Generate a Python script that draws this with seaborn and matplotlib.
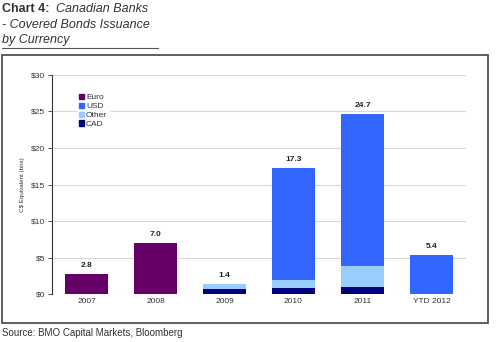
import matplotlib
matplotlib.use("Agg")
import matplotlib.pyplot as plt
import seaborn as sns
import numpy as np
import pandas as pd
from matplotlib.patches import Rectangle
from matplotlib.lines import Line2D

categories = ["2007", "2008", "2009", "2010", "2011", "YTD 2012"]
cad = [0.0, 0.0, 0.7, 0.8, 1.0, 0.0]
other = [0.0, 0.0, 0.7, 1.2, 2.8, 0.0]
usd = [0.0, 0.0, 0.0, 15.3, 20.9, 5.4]
euro = [2.8, 7.0, 0.0, 0.0, 0.0, 0.0]
total_labels = ["2.8", "7.0", "1.4", "17.3", "24.7", "5.4"]
yticks = [0, 5, 10, 15, 20, 25, 30]
ytick_labels = ["$0", "$5", "$10", "$15", "$20", "$25", "$30"]

colors = {"Euro": "#660066", "USD": "#3366FF", "Other": "#99CCFF", "CAD": "#000080"}

sns.set_theme(style="white")
plt.rcParams["font.family"] = ["Liberation Sans", "DejaVu Sans"]

fig = plt.figure(figsize=(5.0, 3.42), dpi=100)
ax = fig.add_axes([0.104, 0.140, 0.828, 0.641])

df = pd.DataFrame({"cat": categories, "CAD": cad, "Other": other, "USD": usd, "Euro": euro})
c1 = df["CAD"]
c2 = c1 + df["Other"]
c3 = c2 + df["USD"]
c4 = c3 + df["Euro"]
layers = [("Euro", c4), ("USD", c3), ("Other", c2), ("CAD", c1)]
for name, vals in layers:
    sns.barplot(x=df["cat"], y=vals, color=colors[name], width=0.62,
                saturation=1, ax=ax, order=categories, zorder=3,
                linewidth=0, edgecolor="none")

for i, (t, lab) in enumerate(zip(c4, total_labels)):
    ax.text(i, t + 0.7, lab, ha="center", va="bottom", fontsize=6,
            fontweight="bold", color="#222222")

ax.set_ylim(0, 30)
ax.set_xlim(-0.5, 5.5)
ax.set_yticks(yticks)
ax.set_yticklabels(ytick_labels, fontsize=6, color="#333333")
ax.set_xticks(range(len(categories)))
ax.set_xticklabels(categories, fontsize=6, color="#333333")
ax.tick_params(axis="x", which="major", length=0, pad=3)
ax.set_xticks(np.arange(-0.5, 6.0, 1.0), minor=True)
ax.tick_params(axis="x", which="minor", length=2, color="#888888", width=0.6)
ax.tick_params(axis="y", length=3, color="#333333", width=0.6, pad=2, left=True)
ax.yaxis.grid(True, color="#d9d9d9", linewidth=0.8, zorder=0)
ax.set_axisbelow(True)
for s in ["top", "right", "bottom"]:
    ax.spines[s].set_visible(False)
ax.spines["left"].set_color("#333333")
ax.spines["left"].set_linewidth(0.8)
ax.set_xlabel("")
ax.set_ylabel("C$ Equivalent (bns)", fontsize=4.5, color="#333333", labelpad=4)

handles = [Rectangle((0, 0), 1, 1, color=colors[k]) for k in ["Euro", "USD", "Other", "CAD"]]
leg = ax.legend(handles, ["Euro", "USD", "Other", "CAD"], loc="upper left",
                bbox_to_anchor=(0.05, 0.94), fontsize=6, frameon=True,
                handlelength=0.6, handleheight=0.6, handletextpad=0.3,
                labelspacing=0.15, borderpad=0.2, framealpha=1, edgecolor="white")
for t in leg.get_texts():
    t.set_color("#333333")

# frame box
fig.patches.append(Rectangle((0.004, 1 - 323 / 342), 0.972, (323 - 55) / 342,
                             transform=fig.transFigure, fill=False,
                             edgecolor="#444444", linewidth=1.2))

# title
fig.text(0.004, 1 - 9 / 342, "Chart 4:", fontsize=9, fontweight="bold",
         color="#333333", va="center", ha="left")
fig.text(0.112, 1 - 9 / 342, "Canadian Banks", fontsize=9, fontstyle="italic",
         color="#333333", va="center", ha="left")
fig.text(0.004, 1 - 25 / 342, "- Covered Bonds Issuance", fontsize=9, fontstyle="italic",
         color="#333333", va="center", ha="left")
fig.text(0.004, 1 - 40 / 342, "by Currency", fontsize=9, fontstyle="italic",
         color="#333333", va="center", ha="left")
fig.lines.append(Line2D([0.004, 0.316], [1 - 48 / 342, 1 - 48 / 342],
                        transform=fig.transFigure, color="#555555", linewidth=0.8))

fig.text(0.004, 1 - 333 / 342, "Source: BMO Capital Markets, Bloomberg", fontsize=7,
         color="#333333", va="center", ha="left")

fig.savefig("out.png", dpi=100)
